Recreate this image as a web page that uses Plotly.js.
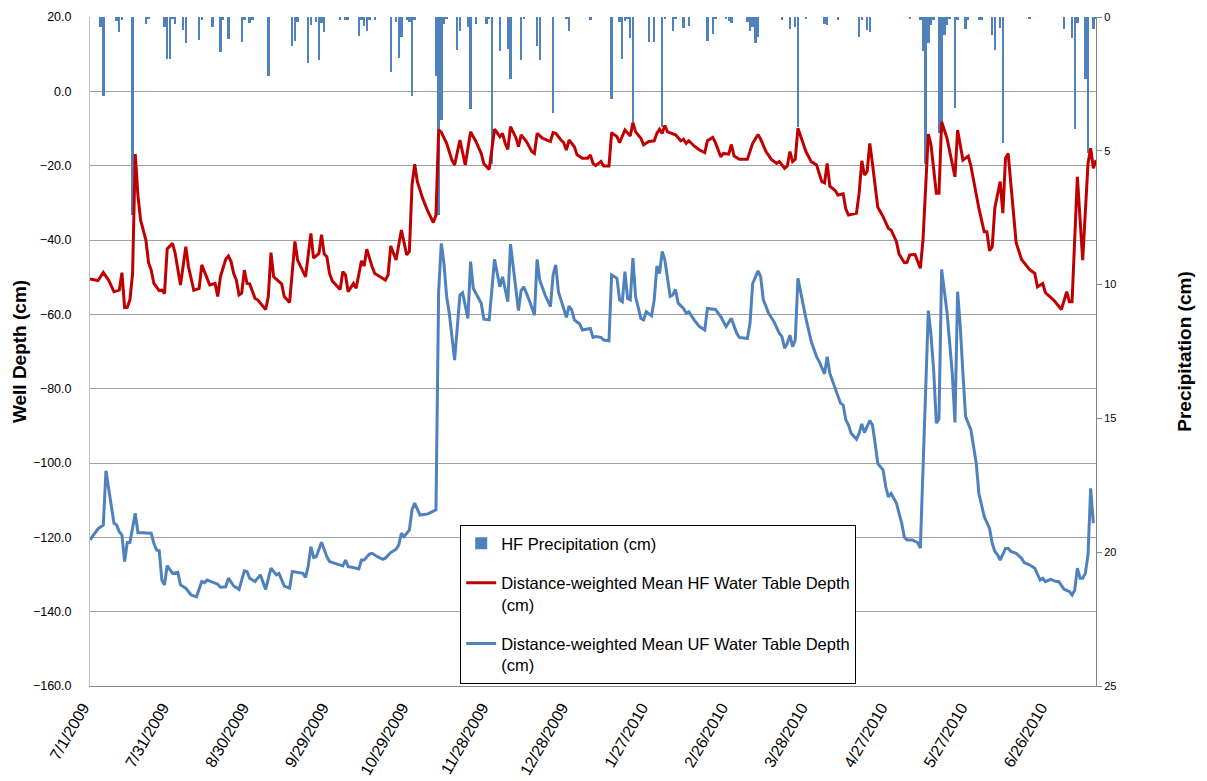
<!DOCTYPE html>
<html>
<head>
<meta charset="utf-8">
<script src="https://cdn.plot.ly/plotly-3.0.1.min.js"></script>
<style>html,body{margin:0;padding:0;background:#fff;}#chart{width:1207px;height:781px;}</style>
</head>
<body>
<div id="chart"></div>
<script>
// Day index = days since 7/1/2009
const hfDays = [0,3,5,7,9,11,12,13,14,15,16,17,18,19,21,22,23,24,26,27,28,29,31,32,34,36,37,39,41,42,43,45,47,48,49,51,52,53,54,55,56,57,58,59,60,62,63,66,67,68,69,71,72,73,75,77,78,81,83,84,86,87,88,89,90,91,92,94,95,96,97,98,99,100,102,103,104,106,107,109,111,112,113,115,117,119,120,121,122,123,125,127,129,130,131,132,134,136,137,139,141,143,145,147,148,150,152,154,155,156,157,158,160,161,162,164,166,167,168,170,172,173,174,175,177,178,179,180,182,183,185,187,188,189,190,192,193,195,196,198,199,201,203,204,205,207,208,210,212,213,214,215,216,217,220,222,223,224,225,227,229,231,232,234,235,237,238,240,241,242,244,247,249,251,252,254,256,258,259,261,262,263,264,265,266,267,269,271,273,274,275,276,277,278,280,281,283,284,285,288,289,290,291,292,293,294,296,298,300,301,303,304,306,307,308,310,312,313,315,316,318,319,320,322,325,326,328,330,331,334,336,337,338,339,340,342,343,344,345,346,348,350,353,355,356,358,359,362,365,367,368,369,371,373,375,376,377,378];
const hfDepth = [-50.5,-50.9,-48.7,-50.8,-53.9,-53.5,-48.8,-58.2,-58.1,-56.1,-49,-16.9,-27.9,-34.6,-40,-46.1,-48.1,-51.7,-53.6,-53.5,-54.4,-42.4,-40.9,-43.6,-52.1,-41.8,-47.2,-53.5,-53,-46.7,-48.5,-52.1,-51.7,-55.2,-49.9,-45.2,-44.3,-45.8,-49,-50.8,-54.8,-54.3,-48.1,-51.7,-51.8,-55.7,-56.1,-58.7,-55.2,-43.4,-49.9,-51.2,-51.8,-55.2,-56.8,-40.4,-45.4,-49.9,-38.2,-44.9,-43.6,-38.6,-43.8,-44.5,-49,-51,-51.7,-53.3,-48.5,-49.4,-53.9,-52.6,-51.7,-53,-45.6,-47,-42.5,-47.2,-49,-49.9,-50.8,-49.4,-41.6,-45.4,-37.3,-44,-43.1,-25.2,-19.6,-24.3,-28.8,-32.4,-35.3,-33.3,-10.4,-11,-14,-18.5,-19.8,-13.1,-19.8,-10.9,-13.5,-16.7,-19.5,-21,-10.2,-12.2,-11.3,-14,-15.6,-9.5,-12.4,-14.9,-11.7,-13.5,-16.2,-16.7,-11.3,-12.6,-13.1,-13.5,-11.1,-11.3,-13.1,-13.8,-15.8,-13.1,-14.9,-17.1,-18,-18,-17.1,-19.4,-20,-18.9,-20.1,-20.1,-11.1,-12.2,-13.8,-10.4,-12,-8.4,-10.9,-12.6,-14.4,-13.5,-13.3,-11.3,-10.2,-11.3,-9.2,-10.9,-11.7,-13.3,-12.9,-14,-13.3,-14.7,-15.8,-16.5,-13.3,-12.4,-13.8,-17.6,-16.7,-16.9,-14.3,-17.4,-18.3,-18.3,-14,-11.6,-12.9,-16.2,-18.3,-19.4,-18.9,-20.7,-20.1,-16.2,-18.9,-18.3,-9.9,-12.2,-16.2,-18.9,-19.8,-22.1,-24.3,-24.6,-19.4,-25.5,-26.7,-27.9,-27.6,-31.7,-33.3,-32.8,-27.4,-18.7,-22.5,-21.6,-14,-19.4,-31.2,-33.7,-36.9,-37.3,-40.4,-43.8,-46.1,-46,-44,-43.9,-47.6,-40,-11.5,-14.4,-27.4,-27.4,-8.2,-12.6,-23,-10.4,-18.5,-17.4,-20.1,-31.5,-37.8,-37.8,-42.9,-41.8,-31.3,-24.3,-32.8,-18,-16.7,-24.8,-40.7,-45.2,-47.9,-49,-52.6,-51.7,-54.2,-56.1,-58.7,-53.9,-56.6,-56.6,-23,-45.4,-19.4,-15.3,-20.7,-18.5];

const ufDays = [0,3,5,6,9,10,11,12,13,14,15,17,18,21,23,24,25,26,27,28,29,31,33,34,36,38,40,42,43,44,46,48,49,51,52,54,56,58,59,60,62,64,66,68,70,71,73,75,76,80,81,82,83,84,85,87,89,90,92,94,95,96,97,99,101,102,103,105,106,108,110,111,113,115,116,117,118,120,121,122,124,127,128,129,130,131,132,133,134,135,136,137,139,140,142,143,144,147,148,150,152,154,155,157,158,160,161,162,163,165,167,168,169,171,173,174,175,176,178,179,180,181,182,184,185,188,189,190,192,193,195,196,198,199,200,201,202,203,204,205,207,208,209,211,212,213,214,215,216,218,219,220,221,223,224,225,227,229,231,232,235,237,239,241,243,244,247,248,249,251,252,253,255,257,259,260,261,262,263,264,265,266,269,271,273,274,276,277,278,280,282,283,284,285,286,288,289,290,291,293,294,295,296,298,299,300,301,303,304,305,306,307,309,311,312,315,316,317,318,319,320,321,322,324,325,326,327,328,329,331,333,334,336,338,339,340,341,342,344,345,346,348,350,351,353,355,356,357,358,359,361,363,364,366,368,369,370,371,372,373,374,375,376,377];
const ufDepth = [-120.7,-117.7,-116.7,-102.1,-116.2,-116.7,-118.5,-119.4,-126.5,-121.4,-121.4,-113.5,-118.7,-118.9,-118.9,-121.6,-123.4,-123.6,-131.5,-132.8,-127.6,-129.7,-129.4,-132.8,-133.7,-135.5,-136,-131.9,-132.2,-131.5,-132.1,-132.6,-133.4,-133.3,-131,-133.1,-134,-129,-129.2,-131,-131.9,-130.1,-134,-128.3,-130.1,-129.7,-133.1,-133.7,-129.2,-129.7,-130.8,-127.7,-122.5,-125.4,-125.2,-121.3,-125.2,-126.5,-127,-127.4,-127.7,-126.1,-127.9,-128.1,-128.5,-126.1,-126.1,-124.5,-124.3,-125.2,-125.9,-125.6,-124.1,-123.2,-122.1,-118.9,-119.8,-118,-112.6,-110.8,-114,-113.7,-113.4,-113,-112.6,-54,-40.9,-46.3,-55.2,-59.7,-66.9,-72.3,-54.8,-54.2,-61.1,-45.8,-53,-57,-61.3,-61.5,-45.2,-52.6,-49.9,-56.6,-41.1,-52.6,-59,-53.6,-52.6,-56.1,-60.2,-45.2,-50.8,-54.8,-57.9,-49.4,-46.7,-53.9,-58.8,-60.8,-57.8,-58.8,-61.5,-62.6,-64.2,-63.8,-66.2,-66,-66.2,-66.9,-67.1,-49.4,-50.3,-56.1,-56.6,-48.5,-55.7,-56.1,-44.9,-55.2,-61.1,-61.5,-59.3,-60.4,-56.1,-47,-49,-43.1,-45.4,-55.2,-54.8,-53.3,-57,-58.4,-59.7,-59.3,-61.5,-63.3,-64.2,-58.4,-58.7,-60.6,-63.3,-61.1,-65.1,-66.2,-66.5,-62.4,-51.7,-48.3,-49.9,-56.1,-59.7,-62,-65.1,-66,-69.1,-67.8,-65.6,-68.7,-66.9,-50.3,-61.1,-67.3,-71.4,-72.7,-76,-71.4,-75.9,-79.9,-83.9,-84.4,-88.4,-89.8,-92,-93.6,-92,-89.5,-91.8,-88.6,-89.8,-94.7,-100.1,-101.9,-106.4,-109.1,-108.2,-110.8,-113.5,-116.2,-120,-120.7,-120.7,-121.4,-122.9,-59,-65.5,-75,-89.3,-88.2,-47.9,-54.3,-59.3,-75.9,-89.1,-53.9,-63.3,-75.9,-87.5,-91.1,-100.1,-108.2,-114.4,-117.6,-121.6,-123.8,-124.7,-126.1,-123,-123,-123.8,-124.3,-125.6,-126.8,-127.4,-128.3,-129.7,-131.5,-131,-131.9,-131.3,-131.9,-131.9,-134,-134.6,-135.5,-134.2,-128.3,-131,-131,-129.7,-124.7,-106.8,-116.2];

const precipDays = [4,5,10,11,12,16,21,22,28,29,30,31,32,35,36,41,42,46,49,50,52,57,58,60,61,67,76,77,78,82,83,85,86,87,88,94,96,97,101,102,103,104,105,107,113,115,116,117,119,120,121,122,130,131,132,133,134,138,139,142,143,145,149,150,151,154,157,158,162,163,168,169,174,179,180,188,196,199,200,201,202,203,204,210,212,215,216,219,220,223,225,232,234,235,239,240,241,247,248,249,250,251,260,263,265,266,269,276,277,281,289,290,292,293,308,312,313,314,315,316,317,319,320,321,322,323,325,326,329,330,334,335,339,340,342,343,353,366,369,370,371,374,375,377,378];
const precipCm = [0.36,2.94,0.14,0.57,0.1,7.4,0.28,0.06,0.36,1.57,1.57,0.06,0.28,0.5,0.98,0.86,0.1,0.36,1.32,0.1,0.83,0.93,0.1,0.24,0.1,2.2,1.07,0.89,0.17,1.73,0.3,0.17,1.61,0.24,0.56,0.1,0.1,0.1,0.7,0.1,0.34,0.53,0.1,0.1,2.04,0.17,1.52,0.76,0.1,0.2,2.94,0.1,2.2,7.4,3.85,0.28,0.06,1.23,0.51,0.36,3.45,0.28,0.25,0.06,5.5,1.28,1.2,2.33,1.61,0.06,1.1,1.61,3.6,0.06,0.54,0.1,3.08,0.17,1.58,0.15,0.06,0.77,3.91,0.93,0.93,4.1,0.06,0.54,0.06,0.4,0.35,0.88,0.64,0.06,0.06,0.15,0.24,0.2,0.54,0.37,0.98,0.73,0.1,0.44,0.36,4.1,0.06,0.27,0.3,0.1,0.73,0.1,0.47,0.57,0.06,0.1,1.26,5.5,0.96,0.3,0.1,4.33,4.33,0.68,0.3,0.06,3.41,0.1,0.44,0.1,0.1,0.1,0.66,1.22,0.4,4.7,0.06,0.44,0.8,4.2,0.23,2.3,5.07,0.44,0.06];

const tickDays = [0,30,60,90,120,150,180,210,240,270,300,330,360];
const tickLabels = ["7/1/2009","7/31/2009","8/30/2009","9/29/2009","10/29/2009","11/28/2009","12/28/2009","1/27/2010","2/26/2010","3/28/2010","4/27/2010","5/27/2010","6/26/2010"];

const FONT = "Liberation Sans, Arial, sans-serif";

const traces = [
  {type:'bar', x:precipDays, y:precipCm, yaxis:'y', name:'HF Precipitation (cm)',
   marker:{color:'#4f81bd', line:{width:0}}, width:0.9, legendgroup:'a', hoverinfo:'x+y'},
  {type:'scatter', mode:'lines', x:hfDays, y:hfDepth, yaxis:'y2',
   name:'Distance-weighted Mean HF Water Table Depth<br>(cm)',
   line:{color:'#c00000', width:3}, legendgroup:'b'},
  {type:'scatter', mode:'lines', x:ufDays, y:ufDepth, yaxis:'y2',
   name:'Distance-weighted Mean UF Water Table Depth<br>(cm)',
   line:{color:'#4f81bd', width:3}, legendgroup:'c'}
];

const layout = {
  width:1207, height:781,
  margin:{l:90, r:111, t:17, b:95, pad:0},
  paper_bgcolor:'#ffffff', plot_bgcolor:'#ffffff',
  font:{family:FONT, color:'#000000', size:13},
  showlegend:true,
  bargap:0,
  xaxis:{range:[0,378], tickmode:'array', tickvals:tickDays, ticktext:tickLabels,
    tickangle:-60, tickfont:{size:16}, showgrid:false, zeroline:false,
    showline:true, linecolor:'#868686', linewidth:1, ticks:'', ticklabelstandoff:5,
    ticklabelshift:-7},
  yaxis:{side:'right', range:[25,0], tickmode:'array', tickvals:[0,5,10,15,20,25],
    ticks:'outside', ticklen:5, tickcolor:'#868686', showline:true, linecolor:'#868686',
    showgrid:false, zeroline:false, tickfont:{size:11},
    title:{text:'<b>Precipitation (cm)</b>', font:{size:19}, standoff:62}},
  yaxis2:{overlaying:'y', side:'left', range:[-160,20], dtick:20, tick0:0, tickformat:'.1f',
    showgrid:true, gridcolor:'#a0a0a0', gridwidth:1, zeroline:false,
    showline:true, linecolor:'#bfbfbf', linewidth:1, ticks:'', tickfont:{size:12.5},
    ticklabelstandoff:15,
    title:{text:'<b>Well Depth (cm)</b>', font:{size:19}, standoff:1}},
  legend:{x:0.368, y:0.2407, xanchor:'left', yanchor:'top', bgcolor:'#ffffff',
    bordercolor:'#000000', borderwidth:1, font:{size:16.5}, tracegroupgap:15,
    valign:'top', traceorder:'grouped', itemwidth:30}
};

Plotly.newPlot('chart', traces, layout, {displayModeBar:false, staticPlot:true});
</script>
</body>
</html>
